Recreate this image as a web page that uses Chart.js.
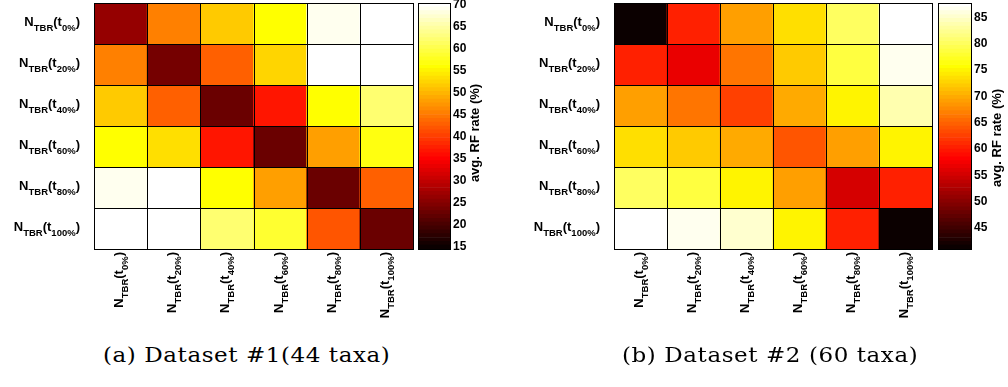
<!DOCTYPE html>
<html>
<head>
<meta charset="utf-8">
<script src="https://cdn.jsdelivr.net/npm/chart.js@4.4.0/dist/chart.umd.min.js"></script>
<style>
body{margin:0;background:#fff;width:1008px;height:387px;position:relative;overflow:hidden}
canvas{position:absolute}
.cap{position:absolute;font-family:"DejaVu Serif",serif;font-size:20px;line-height:20px;white-space:nowrap;color:#000;letter-spacing:0.5px;transform:scaleX(1.15);transform-origin:0 0}
</style>
</head>
<body>
<canvas id="heat1" width="416" height="330" style="left:0;top:0"></canvas>
<canvas id="cbar1" width="96" height="260" style="left:412px;top:0"></canvas>
<canvas id="heat2" width="430" height="330" style="left:505px;top:0"></canvas>
<canvas id="cbar2" width="76" height="260" style="left:932px;top:0"></canvas>
<div class="cap" style="left:103px;top:345px">(a) Dataset #1(44 taxa)</div>
<div class="cap" style="left:622px;top:345px">(b) Dataset #2 (60 taxa)</div>
<script>
// time points, same for rows and columns
const timePoints = ['0%','20%','40%','60%','80%','100%']

// avg. RF rate (%), dataset #1 (44 taxa), rows = t0%..t100%
const rf44 = [
[25.9, 45.9, 51.9, 55.9, 68.7, 70.4],
[45.3, 23.7, 42.5, 52.9, 70.4, 70.4],
[51.4, 42.5, 22.8, 37.2, 56.4, 61.7],
[56.0, 53.4, 37.2, 23.2, 48.0, 57.0],
[69.0, 70.4, 56.1, 48.3, 23.2, 42.5],
[70.4, 70.4, 61.7, 58.5, 42.1, 22.7]
]
const range44 = [14.5, 70.4]
const ticks44 = [15,20,25,30,35,40,45,50,55,60,65,70]

// dataset #2 (60 taxa)
const rf60 = [
[41.0, 60.7, 69.0, 73.6, 80.4, 87.7],
[60.7, 56.9, 66.2, 72.2, 78.9, 86.3],
[69.0, 66.2, 62.3, 69.5, 75.0, 84.0],
[73.6, 72.2, 70.0, 64.0, 69.0, 75.0],
[80.4, 78.9, 75.0, 69.0, 55.3, 60.1],
[87.7, 86.3, 84.9, 75.0, 60.1, 41.5]
]
const range60 = [41.0, 87.7]
const ticks60 = [45,50,55,60,65,70,75,80,85]

const LEVELS = 64

// matlab style "hot" colormap, 64 steps
function hotIndex(i){
  const n1 = 24, n2 = 24
  const r = i < n1 ? (i+1)/n1 : 1
  const g = i < n1 ? 0 : (i < n1+n2 ? (i-n1+1)/n2 : 1)
  const b = i < n1+n2 ? 0 : (i-n1-n2+1)/(LEVELS-n1-n2)
  return 'rgb('+Math.round(r*255)+','+Math.round(g*255)+','+Math.round(b*255)+')'
}
function hot(v, range){
  let i = Math.floor((v-range[0])/(range[1]-range[0])*LEVELS)
  i = Math.max(0, Math.min(LEVELS-1, i))
  return hotIndex(i)
}

const MAIN = 'bold 13px "Liberation Sans", Arial, sans-serif'
const SUB = 'bold 9.5px "Liberation Sans", Arial, sans-serif'

// N_TBR(t_x%) with subscripts, right end at x
function drawTbrLabel(ctx, pct, x, y){
  const parts = [['N',MAIN,0],['TBR',SUB,5],['(t',MAIN,0],[pct,SUB,5],[')',MAIN,0]]
  let w = 0
  parts.forEach(p => { ctx.font = p[1]; w += ctx.measureText(p[0]).width })
  let cx = x - w
  ctx.textAlign = 'left'
  ctx.textBaseline = 'alphabetic'
  parts.forEach(p => {
    ctx.font = p[1]
    ctx.fillText(p[0], cx, y + p[2])
    cx += ctx.measureText(p[0]).width
  })
}

const heatDecor = {
  id:'heatDecor',
  afterDraw(chart){
    const ctx = chart.ctx
    const a = chart.chartArea
    const xs = chart.scales.x, ys = chart.scales.y
    const n = timePoints.length
    ctx.save()
    ctx.strokeStyle = '#000'
    ctx.lineWidth = 1
    ctx.beginPath()
    for(let i=0;i<=n;i++){
      const y = Math.round(ys.getPixelForValue(i)) + 0.5
      ctx.moveTo(a.left, y); ctx.lineTo(a.right+1, y)
      const x = Math.round(a.left + i*a.width/n) + 0.5
      ctx.moveTo(x, a.top); ctx.lineTo(x, a.bottom+1)
    }
    ctx.stroke()
    ctx.fillStyle = '#000'
    timePoints.forEach((t,i) => {
      drawTbrLabel(ctx, t, a.left-14, ys.getPixelForValue(i+0.5)+2)
      ctx.save()
      ctx.translate(xs.getPixelForValue(i)+2.5, a.bottom+3)
      ctx.rotate(-Math.PI/2)
      drawTbrLabel(ctx, t, 0, 0)
      ctx.restore()
    })
    ctx.restore()
  }
}

function heatChart(id, rows, range, padLeft){
  return new Chart(document.getElementById(id),{
    type:'bar',
    data:{
      labels:timePoints,
      datasets:rows.map((row,r) => ({
        data:row.map(() => [r, r+1]),
        backgroundColor:row.map(v => hot(v, range)),
        borderWidth:0,
        barPercentage:1,
        categoryPercentage:1,
        grouped:false
      }))
    },
    options:{
      responsive:false,
      animation:false,
      layout:{padding:{left:padLeft, right:3, top:3, bottom:81}},
      plugins:{legend:{display:false}, tooltip:{enabled:false}},
      scales:{
        x:{display:false},
        y:{display:false, min:0, max:6, reverse:true}
      }
    },
    plugins:[heatDecor]
  })
}

const cbarDecor = {
  id:'cbarDecor',
  afterDraw(chart){
    const ctx = chart.ctx
    const a = chart.chartArea
    const ys = chart.scales.y
    const opts = chart.options.plugins.cbarDecor
    ctx.save()
    ctx.strokeStyle = '#000'
    ctx.lineWidth = 1
    ctx.strokeRect(Math.round(a.left)+0.5, Math.round(a.top)+0.5, Math.round(a.width), Math.round(a.height))
    ctx.fillStyle = '#000'
    ctx.font = 'bold 12px "Liberation Sans", Arial, sans-serif'
    ctx.textAlign = 'left'
    ctx.textBaseline = 'middle'
    opts.ticks.forEach(v => {
      ctx.fillText(String(v), a.right+3, ys.getPixelForValue(v))
    })
    ctx.translate(a.right + opts.titleX, opts.titleY)
    ctx.rotate(-Math.PI/2)
    ctx.font = 'bold 13px "Liberation Sans", Arial, sans-serif'
    ctx.textAlign = 'center'
    ctx.textBaseline = 'alphabetic'
    ctx.fillText('avg. RF rate (%)', 0, 0)
    ctx.restore()
  }
}

function colorBar(id, range, ticks, padRight, titleX, titleY){
  const step = (range[1]-range[0])/LEVELS
  const steps = []
  for(let k=0;k<LEVELS;k++) steps.push(k)
  return new Chart(document.getElementById(id),{
    type:'bar',
    data:{
      labels:[''],
      datasets:steps.map(k => ({
        data:[[range[0]+k*step, range[0]+(k+1)*step]],
        backgroundColor:hotIndex(k),
        borderWidth:0,
        barPercentage:1,
        categoryPercentage:1,
        grouped:false
      }))
    },
    options:{
      responsive:false,
      animation:false,
      layout:{padding:{left:6, right:padRight, top:3, bottom:11}},
      plugins:{legend:{display:false}, tooltip:{enabled:false},
        cbarDecor:{ticks:ticks, titleX:titleX, titleY:titleY}},
      scales:{
        x:{display:false},
        y:{display:false, min:range[0], max:range[1]}
      }
    },
    plugins:[cbarDecor]
  })
}

heatChart('heat1', rf44, range44, 94)
heatChart('heat2', rf60, range60, 109)
colorBar('cbar1', range44, ticks44, 58, 29, 133)
colorBar('cbar2', range60, ticks60, 37, 30, 138)
</script>
</body>
</html>
